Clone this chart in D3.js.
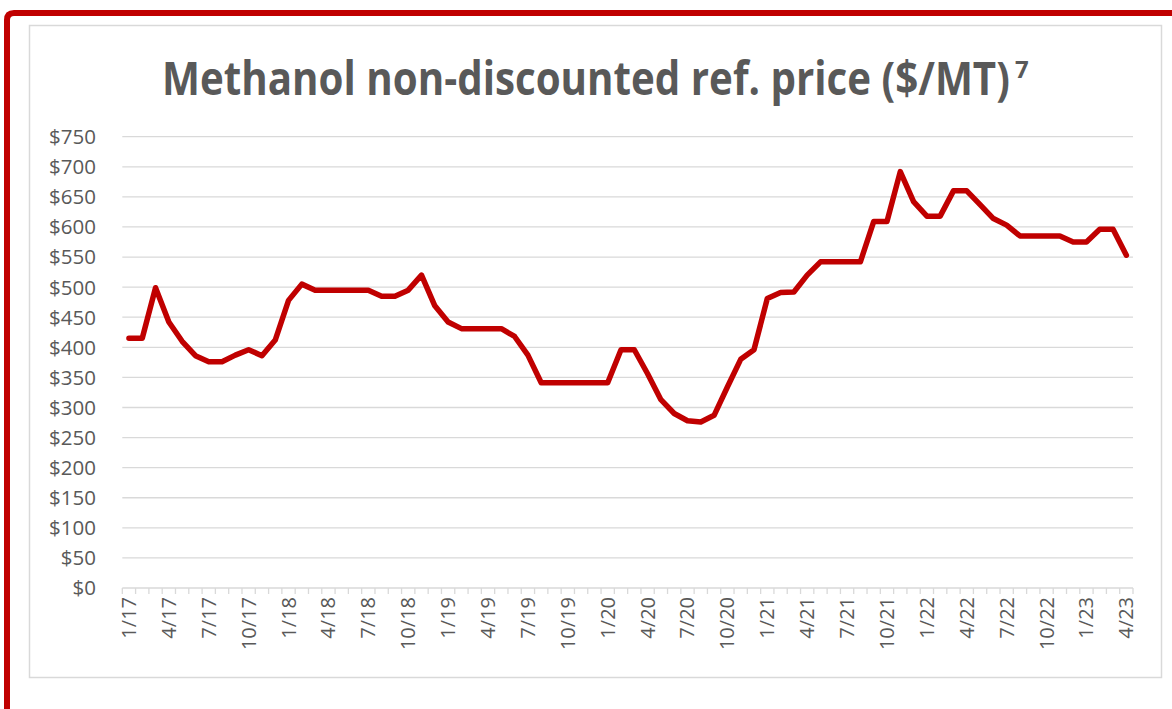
<!DOCTYPE html>
<html>
<head>
<meta charset="utf-8">
<script src="https://cdn.jsdelivr.net/npm/d3@7"></script>
<style>
  body { margin: 0; background: #fff; }
  text { font-family: "Open Sans", sans-serif; fill: #595959; }
</style>
</head>
<body>
<svg id="chart" width="1172" height="709"></svg>
<script>
// monthly values, Jan 2017 .. Apr 2023
let startMonth = new Date(2017, 0, 1);
let endMonth = new Date(2023, 4, 1);

let prices = [
    415, 415, 499, 442, 410, 386, 376, 376, 387, 396, 386, 412,
    478, 505, 495, 495, 495, 495, 495, 485, 485, 495, 520, 469,
    442, 431, 431, 431, 431, 418, 387, 341, 341, 341, 341, 341,
    341, 396, 396, 356, 313, 290, 278, 276, 287, 334, 380, 396,
    481, 491, 492, 520, 542, 542, 542, 542, 609, 609, 692, 642,
    618, 618, 660, 660, 637, 614, 603, 585, 585, 585, 585, 575,
    575, 596, 596, 553
];

let tickLabels = ["1/17", "4/17", "7/17", "10/17", "1/18", "4/18", "7/18", "10/18",
    "1/19", "4/19", "7/19", "10/19", "1/20", "4/20", "7/20", "10/20",
    "1/21", "4/21", "7/21", "10/21", "1/22", "4/22", "7/22", "10/22",
    "1/23", "4/23"];

let yTicks = [0, 50, 100, 150, 200, 250, 300, 350, 400, 450, 500, 550, 600, 650, 700, 750];

let fmtMonth = d3.timeFormat("%-m/%y");
let months = d3.timeMonths(startMonth, endMonth).map(fmtMonth);
let data = months.map(function (m, i) { return { month: m, value: prices[i] }; });

let svg = d3.select("#chart");

svg.append("rect")
    .attr("width", 1172).attr("height", 709)
    .style("fill", "#fff");

// red frame (top + left)
svg.append("path")
    .attr("d", "M7,709 L7,20 Q7,13 14,13 L1172,13")
    .style("fill", "none")
    .style("stroke", "#c00000")
    .style("stroke-width", "6px");

// chart area border
svg.append("rect")
    .attr("x", 29.5).attr("y", 25.5)
    .attr("width", 1132).attr("height", 652)
    .style("fill", "#fff")
    .style("stroke", "#d9d9d9")
    .style("stroke-width", "1.5px");

// title: squeeze horizontally to the reference's narrow face
let titleX = 162, titleW = 848;
let title = svg.append("text")
    .style("font-size", "46px")
    .style("font-weight", "bold")
    .text("Methanol non-discounted ref. price ($/MT)");
let natural = title.node().getComputedTextLength();
title.attr("transform", "translate(" + titleX + ",95) scale(" + (titleW / natural) + ",1)");

svg.append("text")
    .attr("x", titleX + titleW + 5)
    .attr("y", 78)
    .style("font-size", "24px")
    .style("font-weight", "bold")
    .text("7");

let x = d3.scaleBand()
    .domain(months)
    .range([122.3, 1133])
    .paddingInner(0)
    .paddingOuter(0);

let y = d3.scaleLinear()
    .domain([0, 750])
    .range([588, 136.7]);

// gridlines
svg.append("g")
    .selectAll("line")
    .data(yTicks)
    .enter().append("line")
    .attr("x1", x.range()[0])
    .attr("x2", x.range()[1])
    .attr("y1", function (d) { return y(d); })
    .attr("y2", function (d) { return y(d); })
    .style("stroke", "#d9d9d9")
    .style("stroke-width", "1.3px");

// y labels
svg.append("g")
    .selectAll("text")
    .data(yTicks)
    .enter().append("text")
    .attr("x", 96)
    .attr("y", function (d) { return y(d); })
    .attr("dy", "0.36em")
    .style("text-anchor", "end")
    .style("font-size", "20.5px")
    .text(function (d) { return "$" + d; });

// x axis ticks between categories
let tickPos = months.map(function (m) { return x(m); }).concat([x.range()[1]]);
svg.append("g")
    .selectAll("line")
    .data(tickPos)
    .enter().append("line")
    .attr("x1", function (d) { return d; })
    .attr("x2", function (d) { return d; })
    .attr("y1", y(0))
    .attr("y2", y(0) + 6)
    .style("stroke", "#d9d9d9")
    .style("stroke-width", "1.3px");

// x labels
svg.append("g")
    .selectAll("text")
    .data(tickLabels)
    .enter().append("text")
    .attr("transform", function (d) {
        let cx = x(d) + x.bandwidth() / 2;
        return "translate(" + (cx + 7) + "," + 597 + ") rotate(-90)";
    })
    .style("text-anchor", "end")
    .style("font-size", "20px")
    .text(function (d) { return d; });

// price line
let line = d3.line()
    .x(function (d) { return x(d.month) + x.bandwidth() / 2; })
    .y(function (d) { return y(d.value); });

svg.append("path")
    .datum(data)
    .attr("d", line)
    .style("fill", "none")
    .style("stroke", "#c00000")
    .style("stroke-width", "5.5px")
    .style("stroke-linejoin", "round")
    .style("stroke-linecap", "round");
</script>
</body>
</html>
